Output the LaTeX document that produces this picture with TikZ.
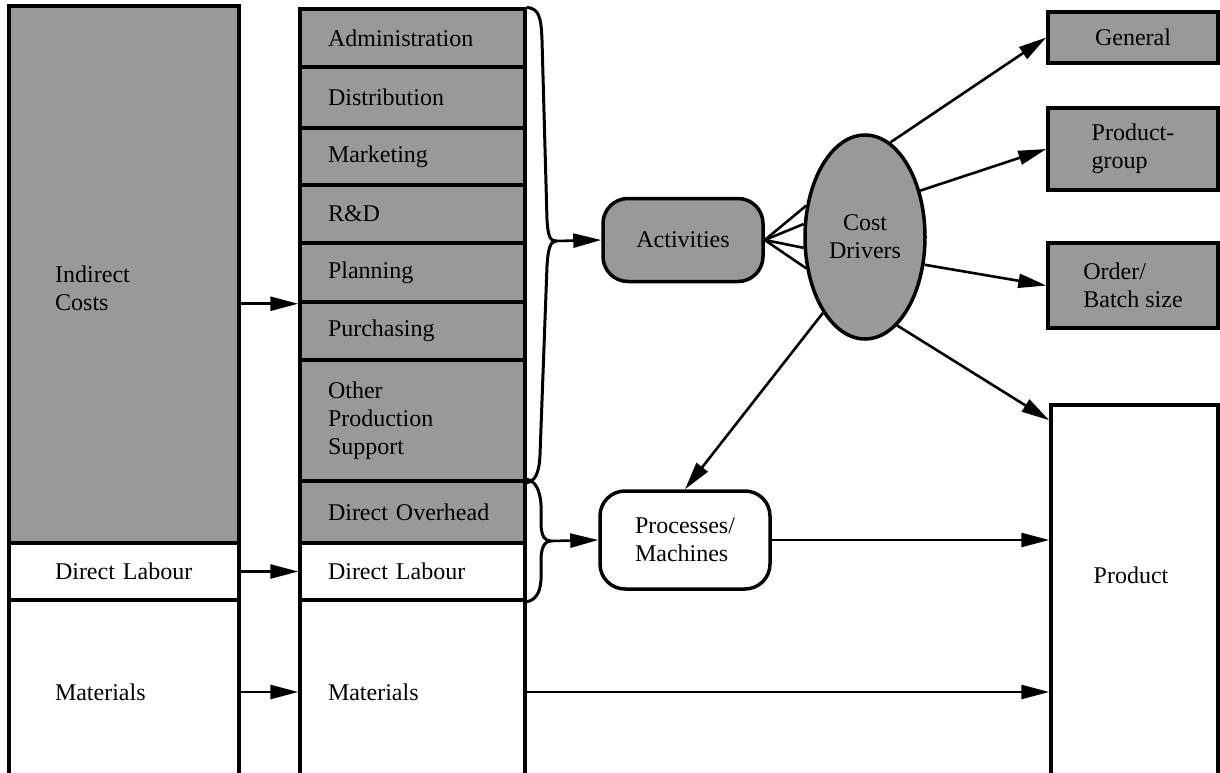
\documentclass[tikz,border=0pt]{standalone}
\usepackage{fontspec}
\setmainfont{Liberation Serif}
\usetikzlibrary{arrows.meta,shapes.geometric,calc}

\begin{document}
\begin{tikzpicture}[x=1pt,y=-1pt,
  font=\fontsize{24}{28}\selectfont,
  box/.style={draw,line width=3.5pt,rectangle,inner ysep=0pt},
  shaded/.style={fill=black!40},
  leftrow/.style={box,minimum width=230pt,text width=138pt,inner xsep=46pt,align=left},
  midrow/.style={box,minimum width=225pt,text width=169pt,inner xsep=28pt,align=left},
  rbox/.style={box,shaded,minimum width=170pt,align=left},
  rounded/.style={draw,line width=3.5pt,rectangle,rounded corners=25pt,align=left},
  flow/.style={line width=2.6pt,-{Triangle[length=28pt,width=14pt]}},
  link/.style={line width=2.6pt},
  bracepath/.style={line width=3pt,line join=round},
]
\useasboundingbox (0,0) rectangle (1220,773);
\clip (0,0) rectangle (1220,773);

% ---- left column: cost structure
\node[box,shaded,minimum width=230pt,minimum height=537pt] (indirect) at (124,274.5) {};
\node[anchor=west,align=left,inner sep=0pt] (indirect-text) at (55,288) {Indirect\\Costs};
\node[leftrow,minimum height=57pt] (ldl) at (124,571.5) {Direct Labour};
\node[leftrow,minimum height=184pt] (lmat) at (124,692) {Materials};

% ---- middle column: cost categories
\node[midrow,shaded,minimum height=58pt] (adm) at (412.5,38) {Administration};
\node[midrow,shaded,minimum height=61pt] (dist) at (412.5,97.5) {Distribution};
\node[midrow,shaded,minimum height=57pt] (mkt) at (412.5,156.5) {Marketing};
\node[midrow,shaded,minimum height=58pt] (rd) at (412.5,214) {R\&D};
\node[midrow,shaded,minimum height=59pt] (plan) at (412.5,272.5) {Planning};
\node[midrow,shaded,minimum height=58pt] (purch) at (412.5,331) {Purchasing};
\node[midrow,shaded,minimum height=121pt] (other) at (412.5,420.5) {Other\\Production\\Support};
\node[midrow,shaded,minimum height=62pt] (dovh) at (412.5,512) {Direct Overhead};
\node[midrow,minimum height=57pt] (mdl) at (412.5,571.5) {Direct Labour};
\node[midrow,minimum height=184pt] (mmat) at (412.5,692) {Materials};

% ---- activities and drivers
\node[rounded,shaded,minimum width=160pt,minimum height=83pt] (act) at (683,240) {Activities};
\node[rounded,minimum width=170pt,minimum height=98pt] (proc) at (685,540) {Processes/\\Machines};
\node[ellipse,draw,line width=3.5pt,shaded,minimum width=120pt,minimum height=204pt,inner sep=0pt,align=center] (cd) at (865,237) {Cost\\Drivers};

% ---- cost objects
\node[rbox,minimum height=51pt] (gen) at (1133,37.5) {General};
\node[rbox,minimum height=82pt] (pg) at (1133,149) {Product-\\group};
\node[rbox,minimum height=85pt] (ord) at (1133,285.5) {Order/\\Batch size};
\node[box,minimum width=167pt,minimum height=385pt] (prod) at (1134.5,597.5) {};
\node[inner sep=0pt] (prod-text) at (1131,575) {Product};

% ---- transfers from the left column
\draw[flow] (indirect.east |- plan.south west) -- (plan.south west);
\draw[flow] (ldl.east) -- (mdl.west);
\draw[flow] (lmat.east) -- (mmat.west);

% ---- braces grouping the overhead categories
\coordinate (tip1) at (556,241);
\coordinate (tip2) at (551,541);
\draw[bracepath] (adm.north east)
  .. controls (539,9) and (541,16) .. (542,40)
  -- (547,220) .. controls (548,236) and (550,241) .. (tip1)
  .. controls (550,241) and (548,250) .. (547,266)
  -- (540,455) .. controls (539,474) and (535,481) .. (other.south east);
\draw[bracepath] (dovh.north east)
  .. controls (535,481) and (540,489) .. (541,505)
  -- (541,526) .. controls (542,537) and (545,541) .. (tip2)
  .. controls (545,541) and (542,546) .. (541,557)
  -- (541,580) .. controls (540,594) and (535,600) .. (mdl.south east);
\draw[flow] (tip1) -- (act.west);
\draw[flow] (tip2) -- (proc.west);

% ---- activities to cost drivers
\foreach \a in {152,168,190,208}
  \draw[link] (act.east) -- (cd.\a);

% ---- cost drivers to cost objects
\coordinate (prodin) at ($(prod.north west)+(0,17)$);
\draw[flow] (cd.75) -- (gen.west);
\draw[flow] (cd.40) -- (pg.west);
\draw[flow] (cd.-25) -- (ord.west);
\draw[flow] (cd.-70) -- (prodin);
\draw[flow] (cd.241) -- (proc.north);

% ---- direct flows into the product
\draw[flow] (proc.east) -- (proc.east -| prod.west);
\draw[flow] (mmat.east) -- (mmat.east -| prod.west);
\end{tikzpicture}
\end{document}
